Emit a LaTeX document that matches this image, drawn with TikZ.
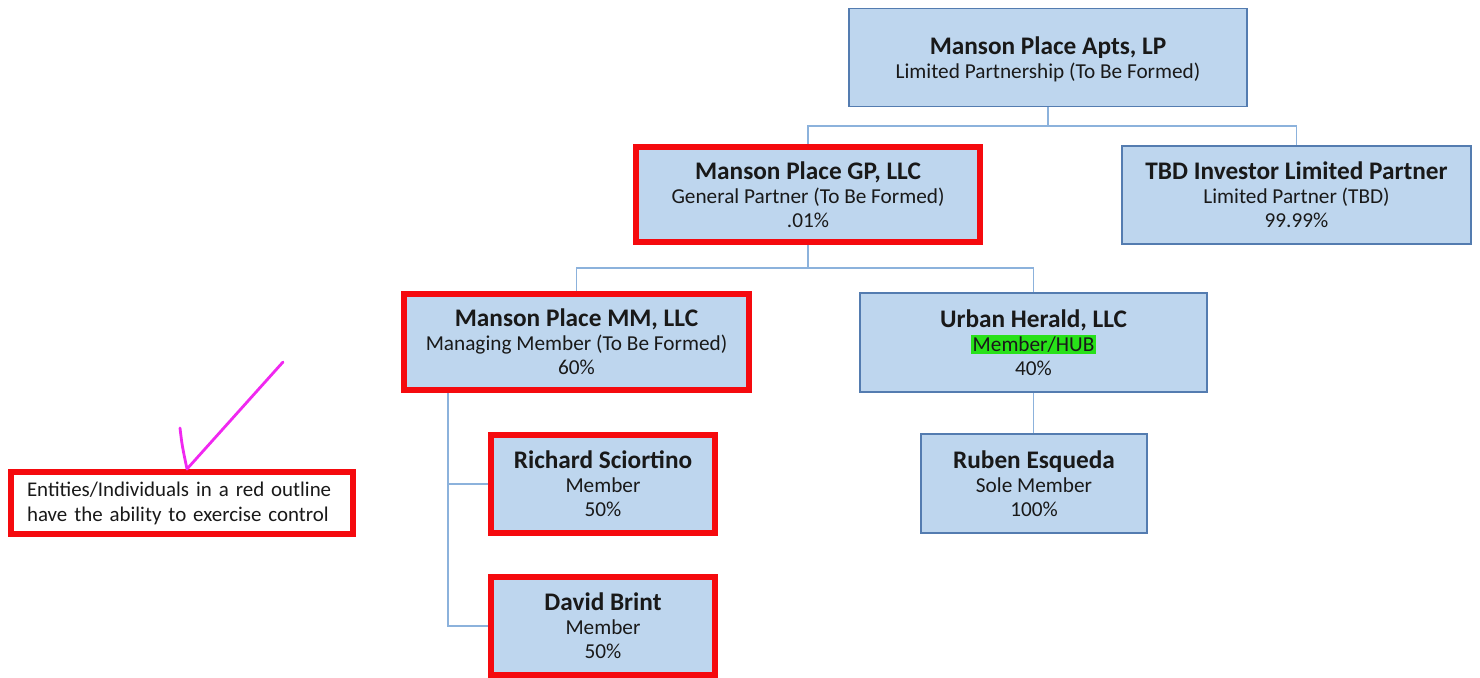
\documentclass[tikz,border=0pt]{standalone}
\usepackage{fontspec}
\setmainfont{Carlito}
\usepackage{xcolor}
\usetikzlibrary{calc}

\definecolor{boxfill}{RGB}{190,214,238}
\definecolor{boxedge}{RGB}{84,124,176}
\definecolor{linkblue}{RGB}{140,178,220}
\definecolor{ctrlred}{RGB}{245,10,14}
\definecolor{hubgreen}{RGB}{40,225,25}
\definecolor{tickpink}{RGB}{240,40,240}
\definecolor{inktext}{RGB}{25,25,25}

\newcommand{\boxtitle}[1]{{\fontsize{14.4}{13.7}\selectfont\bfseries #1}}

\begin{document}
\begin{tikzpicture}[x=0.02cm,y=-0.02cm,
        entity/.style={rectangle,draw=boxedge,fill=boxfill,line width=1.1pt,text=inktext,
            align=center,inner sep=0pt,font=\fontsize{12.1}{13.7}\selectfont},
        control/.style={entity,draw=ctrlred,line width=3.2pt},
        link/.style={draw=linkblue,line width=0.9pt}]
    \useasboundingbox (0,0) rectangle (1480,677);

    \node[entity,minimum width=7.96cm,minimum height=1.96cm,text depth=0pt] (apts) at (1048,57.5)
        {\boxtitle{Manson Place Apts, LP}\\Limited Partnership (To Be Formed)};
    \node[control,minimum width=6.88cm,minimum height=1.9cm] (gp) at (808,194.5)
        {\boxtitle{Manson Place GP, LLC}\\General Partner (To Be Formed)\\.01\%};
    \node[entity,minimum width=6.98cm,minimum height=1.96cm] (tbd) at (1296.5,195)
        {\boxtitle{TBD Investor Limited Partner}\\Limited Partner (TBD)\\99.99\%};
    \node[control,minimum width=6.9cm,minimum height=1.92cm] (mm) at (576.5,342)
        {\boxtitle{Manson Place MM, LLC}\\Managing Member (To Be Formed)\\60\%};
    \node[entity,minimum width=6.94cm,minimum height=1.98cm] (urban) at (1033.5,342.5)
        {\boxtitle{Urban Herald, LLC}\\{\fboxsep=1pt\colorbox{hubgreen}{Member/HUB}}\\40\%};
    \node[control,minimum width=4.48cm,minimum height=1.96cm] (richard) at (603,484)
        {\boxtitle{Richard Sciortino}\\Member\\50\%};
    \node[entity,minimum width=4.52cm,minimum height=1.98cm] (ruben) at (1034,483.5)
        {\boxtitle{Ruben Esqueda}\\Sole Member\\100\%};
    \node[control,minimum width=4.48cm,minimum height=1.96cm] (david) at (603,626)
        {\boxtitle{David Brint}\\Member\\50\%};

    \node[control,fill=white,align=left,minimum width=6.84cm,minimum height=1.24cm,
        text width=6.2cm,font=\fontsize{11.9}{14.2}\selectfont] (legend) at (182,503)
        {Entities/Individuals in a red outline\\have the ability to exercise control};

    \coordinate (bus1) at (1048,126);
    \coordinate (bus2) at (808,268);
    \coordinate (mmfoot) at (448,393);

    \draw[link] (apts.south) -- (bus1);
    \draw[link] (gp.north) |- (bus1) -| (tbd.north);
    \draw[link] (gp.south) -- (bus2);
    \draw[link] (mm.north) |- (bus2) -| (urban.north);
    \draw[link] (mmfoot) |- (david.west);
    \draw[link] (mmfoot |- richard.west) -- (richard.west);
    \draw[link] (urban.south) -- (urban.south |- ruben.north);

    \draw[tickpink,line width=1.6pt,line cap=round,line join=round]
        (180,428) .. controls (182,445) .. (187,469) -- (283,362);
\end{tikzpicture}
\end{document}
